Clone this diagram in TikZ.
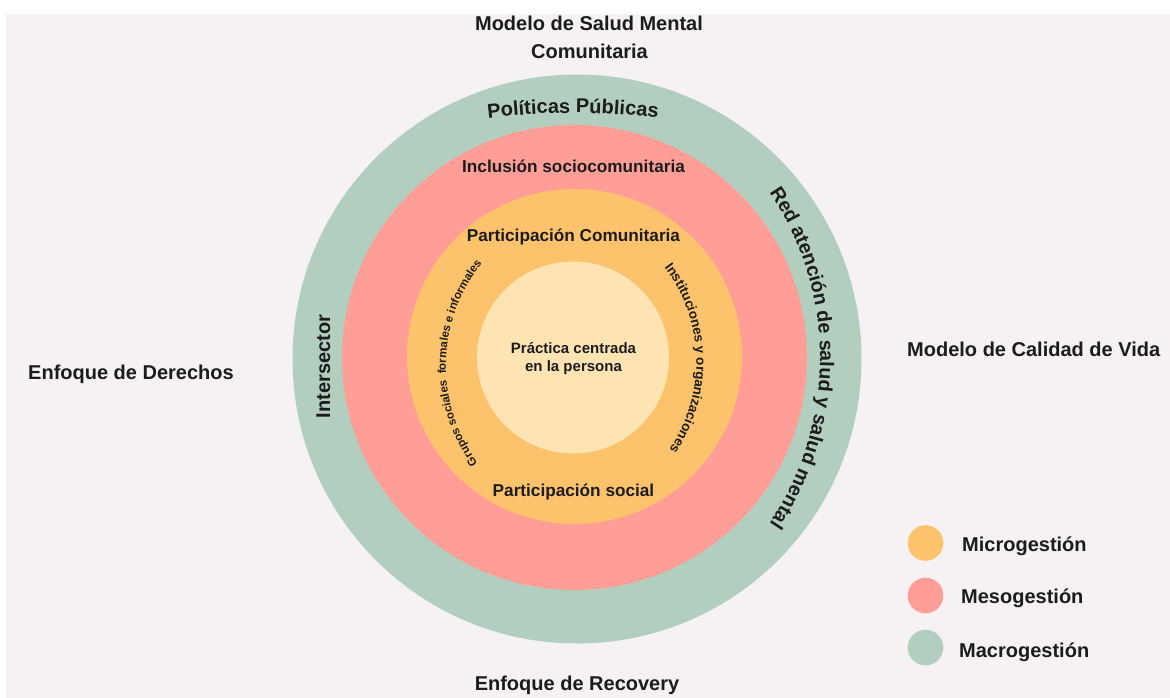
\documentclass[tikz,border=0pt]{standalone}
\usepackage{fontspec}
\setmainfont{Liberation Sans}
\usetikzlibrary{decorations.text}
\definecolor{bgc}{HTML}{F6F2F3}
\definecolor{macro}{HTML}{B2CEBE}
\definecolor{meso}{HTML}{FE9E96}
\definecolor{micro}{HTML}{FDC26C}
\definecolor{core}{HTML}{FDE4B2}
\definecolor{txt}{HTML}{1C1C1C}
\newcommand\fsz[1]{\fontsize{#1}{#1}\selectfont\bfseries}
\begin{document}
\begin{tikzpicture}[x=1pt,y=1pt]
\tikzset{
  lbl/.style={font=\fsz{20}, text=txt, inner sep=0pt},
  midlbl/.style={font=\fsz{17.2}, text=txt, inner sep=0pt},
  corelbl/.style={font=\fsz{15}, text=txt, inner sep=0pt},
  ring/.style={circle, inner sep=0pt, draw=none},
  legdot/.style={circle, inner sep=0pt, minimum size=35.6pt, draw=none},
}
\useasboundingbox (0,0) rectangle (1170,-698);
\fill[white] (0,0) rectangle (1170,-698);
\fill[bgc] (6,-14) rectangle (1170,-698);

% rings
\node[ring, fill=macro, minimum size=569pt] (macroring) at (577,-359) {};
\node[ring, fill=meso, minimum size=465pt] (mesoring) at (574.5,-357.5) {};
\node[ring, fill=micro, minimum size=335pt] (microring) at (574.5,-356.5) {};
\node[ring, fill=core, minimum size=192pt] (corering) at (573,-357.5) {};

% outer labels
\node[lbl, anchor=base] (tit1) at (589,-31) {Modelo de Salud Mental};
\node[lbl, anchor=base] (tit2) at (589.5,-59) {Comunitaria};
\node[lbl, anchor=base west] (izq) at (28,-379) {Enfoque de Derechos};
\node[lbl, anchor=base west] (der) at (907,-356) {Modelo de Calidad de Vida};
\node[lbl, anchor=base] (abajo) at (577,-690) {Enfoque de Recovery};

% green ring labels
\node[lbl, anchor=base, rotate=90] (inter) at (330,-366.5) {Intersector};
\path[decorate, decoration={text along path, text align=center,
  text={|\fsz{20}\color{txt}|Políticas Públicas}}]
  (573,-813) ++(110:700) arc[start angle=110, end angle=70, radius=700pt];
\path[decorate, decoration={text along path, text align=center,
  text={|\fsz{19.7}\color{txt}|Red atención de salud y salud mental}}]
  (524,-358) ++(75:296) arc[start angle=75, end angle=-75, radius=296pt];

% red ring label
\node[midlbl, anchor=base] (inclusion) at (573.5,-172) {Inclusión sociocomunitaria};

% orange ring labels
\node[midlbl, anchor=base] (partcom) at (573.5,-241) {Participación Comunitaria};
\node[midlbl, anchor=base] (partsoc) at (573.5,-496) {Participación social};
\path[decorate, decoration={text along path, text align=center,
  text={|\fsz{11.5}\color{txt}|Grupos sociales{\ \ }formales e informales}}]
  (610,-366) ++(248.75:164) arc[start angle=248.75, end angle=108.75, radius=164pt];
\path[decorate, decoration={text along path, text align=center,
  text={|\fsz{13.4}\color{txt}|Instituciones y organizaciones}}]
  (540,-362) ++(71.55:156.3) arc[start angle=71.55, end angle=-68.45, radius=156.3pt];

% core
\node[corelbl, anchor=base] (pract1) at (573.5,-353) {Práctica centrada};
\node[corelbl, anchor=base] (pract2) at (573.5,-371) {en la persona};

% legend
\node[legdot, fill=micro] (legmicro) at (925.5,-543) {};
\node[legdot, fill=meso] (legmeso) at (925.5,-595.5) {};
\node[legdot, fill=macro] (legmacro) at (925.5,-647.5) {};
\node[lbl, anchor=base west] (tmicro) at (962,-551) {Microgestión};
\node[lbl, anchor=base west] (tmeso) at (961,-603) {Mesogestión};
\node[lbl, anchor=base west] (tmacro) at (959,-657) {Macrogestión};
\end{tikzpicture}
\end{document}
